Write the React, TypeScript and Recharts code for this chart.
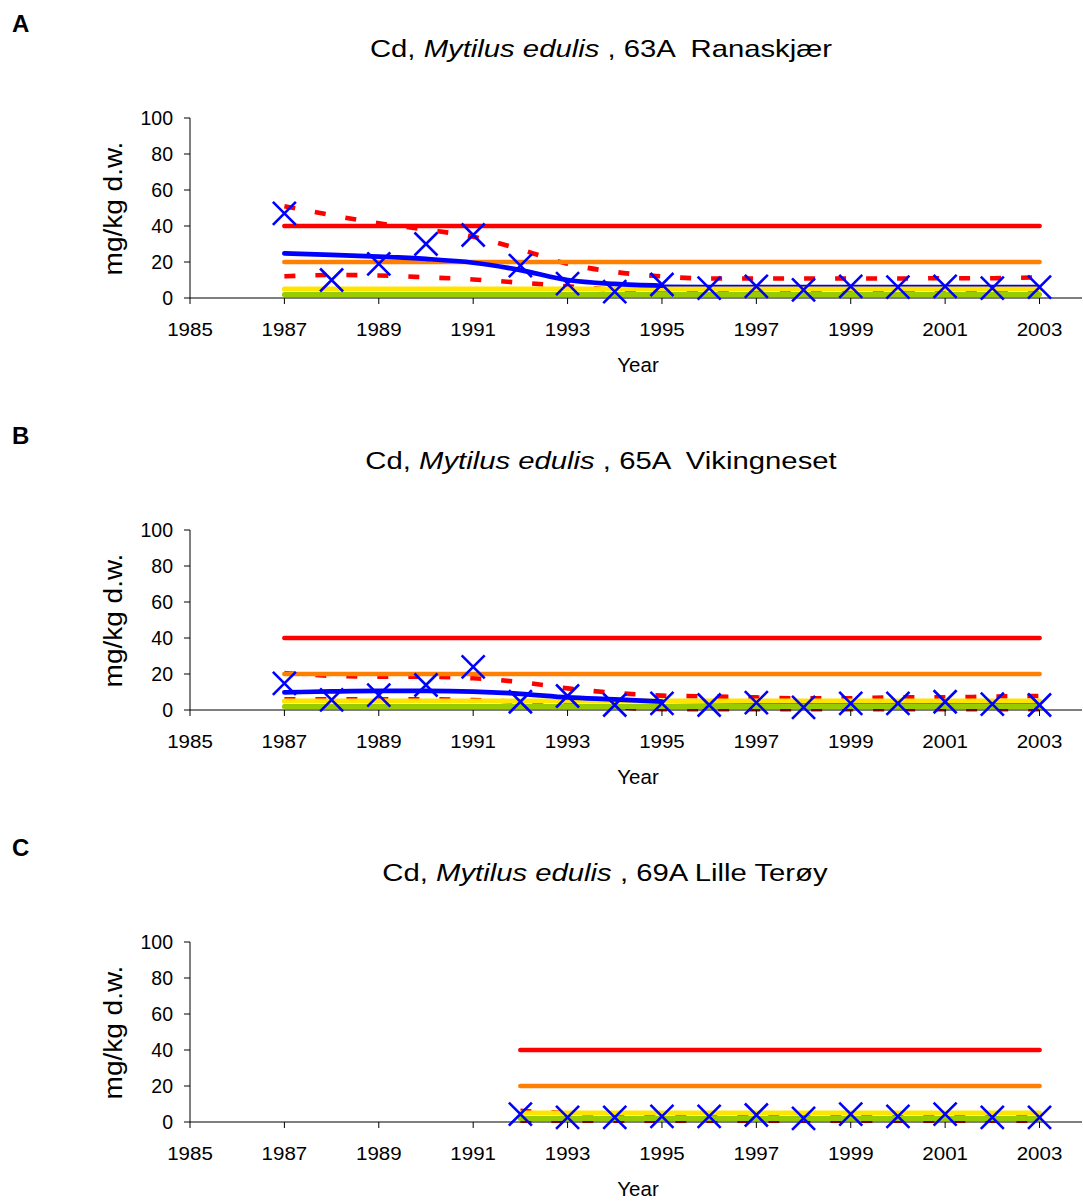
import React from 'react';
import { ComposedChart, Line, XAxis, YAxis } from 'recharts';

// ---------- data ----------
const X_TICKS = [1985, 1987, 1989, 1991, 1993, 1995, 1997, 1999, 2001, 2003];
const Y_TICKS = [0, 20, 40, 60, 80, 100];

const YEARS_FULL = [1987, 1988, 1989, 1990, 1991, 1992, 1993, 1994, 1995, 1996, 1997, 1998, 1999, 2000, 2001, 2002, 2003];
const YEARS_EARLY = [1987, 1988, 1989, 1990, 1991, 1992, 1993, 1994, 1995];
const YEARS_LATE = [1995, 1996, 1997, 1998, 1999, 2000, 2001, 2002, 2003];
const YEARS_C = [1992, 1993, 1994, 1995, 1996, 1997, 1998, 1999, 2000, 2001, 2002, 2003];

// Panel A: 63A Ranaskjær
const A_OBS = [47, 10, 19, 30, 35, 18, 8, 3.5, 7.5, 5.5, 6.5, 4.5, 6.5, 6, 6.5, 5.5, 6];
const A_TREND = [24.8, 24, 23, 21.7, 19.6, 15.5, 10, 7.8, 6.8];
const A_TREND_LATE = [6.8, 6.7, 6.6, 6.6, 6.6, 6.6, 6.6, 6.6, 6.6];
const A_UPPER = [51, 46, 41.5, 38, 34, 27, 19, 14.5, 12, 10.8, 10.8, 10.8, 10.8, 10.8, 11, 11, 11.5];
const A_LOWER = [12, 12.8, 12.5, 11.5, 10.3, 8.5, 6.5, 4.5, 3.2, 3.2, 3.2, 3.2, 3.2, 3.2, 3.2, 3.2, 3.2];

// Panel B: 65A Vikingneset
const B_OBS = [14.8, 5.6, 8.3, 13.9, 24, 4.6, 7.8, 2.8, 3.7, 2.8, 4.1, 1.5, 3.7, 3.7, 4.6, 3.3, 2.8];
const B_TREND = [9.8, 10.3, 10.6, 10.6, 10.2, 9, 7, 5.9, 4.6];
const B_TREND_LATE = [4.6, 4.3, 4, 4, 4, 4, 4, 4, 4];
const B_UPPER = [20.5, 19, 18.5, 18.5, 17.6, 15.5, 12, 9.5, 8, 7.5, 7, 6.5, 6.5, 7, 7, 7.5, 7.8];
const B_LOWER = [6, 6, 6, 6, 5.5, 4.5, 3, 1.5, 0.5, 0.5, 0.5, 0.5, 0.5, 0.5, 0.5, 0.5, 0.5];

// Panel C: 69A Lille Terøy
const C_OBS = [4.4, 2.6, 2.6, 3.1, 3.1, 3.9, 2, 4.4, 3.1, 4.4, 2.6, 2.6];
const C_UPPER = [6.2, 5, 4.6, 4.6, 4.6, 4.6, 4.6, 4.6, 4.6, 4.6, 4.6, 4.6];
const C_LOWER = [0.7, 0.7, 0.7, 0.7, 0.7, 0.7, 0.7, 0.7, 0.7, 0.7, 0.7, 0.7];

// Classification limits (mg/kg d.w.)
const CLASS_LIMITS = [40, 20, 5, 2];
const CLASS_COLORS = ['#FF0000', '#FF8000', '#FFE400', '#99CC00'];
const CLASS_END = 2003;

const LETTERS = ['A', 'B', 'C'];
const SITES = ['63A  Ranaskjær', '65A  Vikingneset', '69A Lille Terøy'];

// ---------- helpers ----------
type Pt = { year: number; value: number };
const toSeries = (years: number[], values: number[]): Pt[] =>
  years.map((year, i) => ({ year, value: values[i] }));

interface PanelDef {
  letter: string;
  site: string;
  obs: Pt[];
  trend: Pt[] | null;
  trendLate: Pt[] | null;
  upper: Pt[];
  lower: Pt[];
  classStart: number;
  titleX: number;
}

const PANELS: PanelDef[] = [
  {
    letter: LETTERS[0], site: SITES[0],
    obs: toSeries(YEARS_FULL, A_OBS),
    trend: toSeries(YEARS_EARLY, A_TREND),
    trendLate: toSeries(YEARS_LATE, A_TREND_LATE),
    upper: toSeries(YEARS_FULL, A_UPPER),
    lower: toSeries(YEARS_FULL, A_LOWER),
    classStart: 1987, titleX: 601,
  },
  {
    letter: LETTERS[1], site: SITES[1],
    obs: toSeries(YEARS_FULL, B_OBS),
    trend: toSeries(YEARS_EARLY, B_TREND),
    trendLate: toSeries(YEARS_LATE, B_TREND_LATE),
    upper: toSeries(YEARS_FULL, B_UPPER),
    lower: toSeries(YEARS_FULL, B_LOWER),
    classStart: 1987, titleX: 601,
  },
  {
    letter: LETTERS[2], site: SITES[2],
    obs: toSeries(YEARS_C, C_OBS),
    trend: null,
    trendLate: null,
    upper: toSeries(YEARS_C, C_UPPER),
    lower: toSeries(YEARS_C, C_LOWER),
    classStart: 1992, titleX: 605,
  },
];

const FONT = '"Liberation Sans", Arial, Helvetica, sans-serif';
const W = 1083;
const H = 412;

const renderCross = (props: any) => {
  const { cx, cy, index } = props;
  if (cx == null || cy == null || isNaN(cx) || isNaN(cy)) return <g key={`cx-${index}`} />;
  const s = 11.5;
  return (
    <path
      key={`cx-${index}`}
      d={`M${cx - s},${cy - s}L${cx + s},${cy + s}M${cx - s},${cy + s}L${cx + s},${cy - s}`}
      stroke="#0000FF"
      strokeWidth={2.6}
      fill="none"
    />
  );
};

const XTick = (props: any) => {
  const { x, y, payload } = props;
  return (
    <g transform={`translate(${x},${y + 13.5}) scale(1.08,1)`}>
      <text x={0} y={0} textAnchor="middle" fontSize={19} fill="#000" fontFamily={FONT}>
        {payload.value}
      </text>
    </g>
  );
};

const YTick = (props: any) => {
  const { x, y, payload } = props;
  return (
    <text x={x} y={y + 6.8} textAnchor="end" fontSize={19.5} fill="#000" fontFamily={FONT}>
      {payload.value}
    </text>
  );
};

const Panel = ({ p, top }: { p: PanelDef; top: number }) => {
  const classLines = CLASS_LIMITS.map((v) => [
    { year: p.classStart, value: v },
    { year: CLASS_END, value: v },
  ]);
  return (
    <div style={{ position: 'absolute', left: 0, top, width: W, height: H }}>
      <ComposedChart width={W} height={H} margin={{ top: 118, right: 1, bottom: 84, left: 130 }}>
        <XAxis
          type="number"
          dataKey="year"
          domain={[1985, 2003.9]}
          ticks={X_TICKS}
          interval={0}
          height={30}
          tickSize={6}
          tickMargin={18}
          axisLine={{ stroke: '#000', strokeWidth: 1 }}
          tickLine={{ stroke: '#000', strokeWidth: 1 }}
          tick={<XTick />}
        />
        <YAxis
          type="number"
          dataKey="value"
          domain={[0, 100]}
          ticks={Y_TICKS}
          interval={0}
          width={60}
          tickSize={6}
          tickMargin={11}
          axisLine={{ stroke: '#000', strokeWidth: 1 }}
          tickLine={{ stroke: '#000', strokeWidth: 1 }}
          tick={<YTick />}
        />
        {/* confidence band (dashed red) */}
        <Line data={p.upper} dataKey="value" type="monotone" stroke="#FF0000" strokeWidth={4.6}
          strokeDasharray="11 20" dot={false} activeDot={false} isAnimationActive={false} />
        <Line data={p.lower} dataKey="value" type="monotone" stroke="#FF0000" strokeWidth={4.6}
          strokeDasharray="11 20" dot={false} activeDot={false} isAnimationActive={false} />
        {p.trendLate && (
          <Line data={p.trendLate} dataKey="value" type="linear" stroke="#0000FF" strokeWidth={2.5}
            dot={false} activeDot={false} isAnimationActive={false} />
        )}
        {/* classification limits */}
        {classLines.map((d, i) => (
          <Line key={`cl-${i}`} data={d} dataKey="value" type="linear" stroke={CLASS_COLORS[i]}
            strokeWidth={i >= 2 ? 5 : 4.7} strokeLinecap="round" dot={false} activeDot={false}
            isAnimationActive={false} />
        ))}
        {p.trend && (
          <Line data={p.trend} dataKey="value" type="monotone" stroke="#0000FF" strokeWidth={4.7}
            strokeLinecap="round" dot={false} activeDot={false} isAnimationActive={false} />
        )}
        {/* observations */}
        <Line data={p.obs} dataKey="value" type="linear" stroke="none" dot={renderCross}
          activeDot={false} isAnimationActive={false} />
      </ComposedChart>
      <svg width={W} height={H} style={{ position: 'absolute', left: 0, top: 0, pointerEvents: 'none' }}>
        <text x={12} y={32} fontSize={24} fontWeight="bold" fontFamily={FONT} fill="#000">{p.letter}</text>
        <g transform={`translate(${p.titleX},56.7) scale(1.22,1)`}>
          <text x={0} y={0} textAnchor="middle" fontSize={24} fontFamily={FONT} fill="#000" style={{ whiteSpace: 'pre' }}>
            <tspan>{'Cd, '}</tspan>
            <tspan fontStyle="italic">Mytilus edulis</tspan>
            <tspan>{` , ${p.site}`}</tspan>
          </text>
        </g>
        <text x={638} y={372} textAnchor="middle" fontSize={20.5} fontFamily={FONT} fill="#000">Year</text>
        <g transform="translate(121.5,208.5) rotate(-90) scale(1.12,1)">
          <text x={0} y={0} textAnchor="middle" fontSize={25} fontFamily={FONT} fill="#000">mg/kg d.w.</text>
        </g>
      </svg>
    </div>
  );
};

export default function App() {
  return (
    <div
      style={{
        position: 'absolute', left: 0, top: 0, width: W, height: 1204,
        overflow: 'hidden', background: '#fff', fontFamily: FONT,
      }}
    >
      {PANELS.map((p, i) => (
        <Panel key={p.letter} p={p} top={i * 412} />
      ))}
    </div>
  );
}
